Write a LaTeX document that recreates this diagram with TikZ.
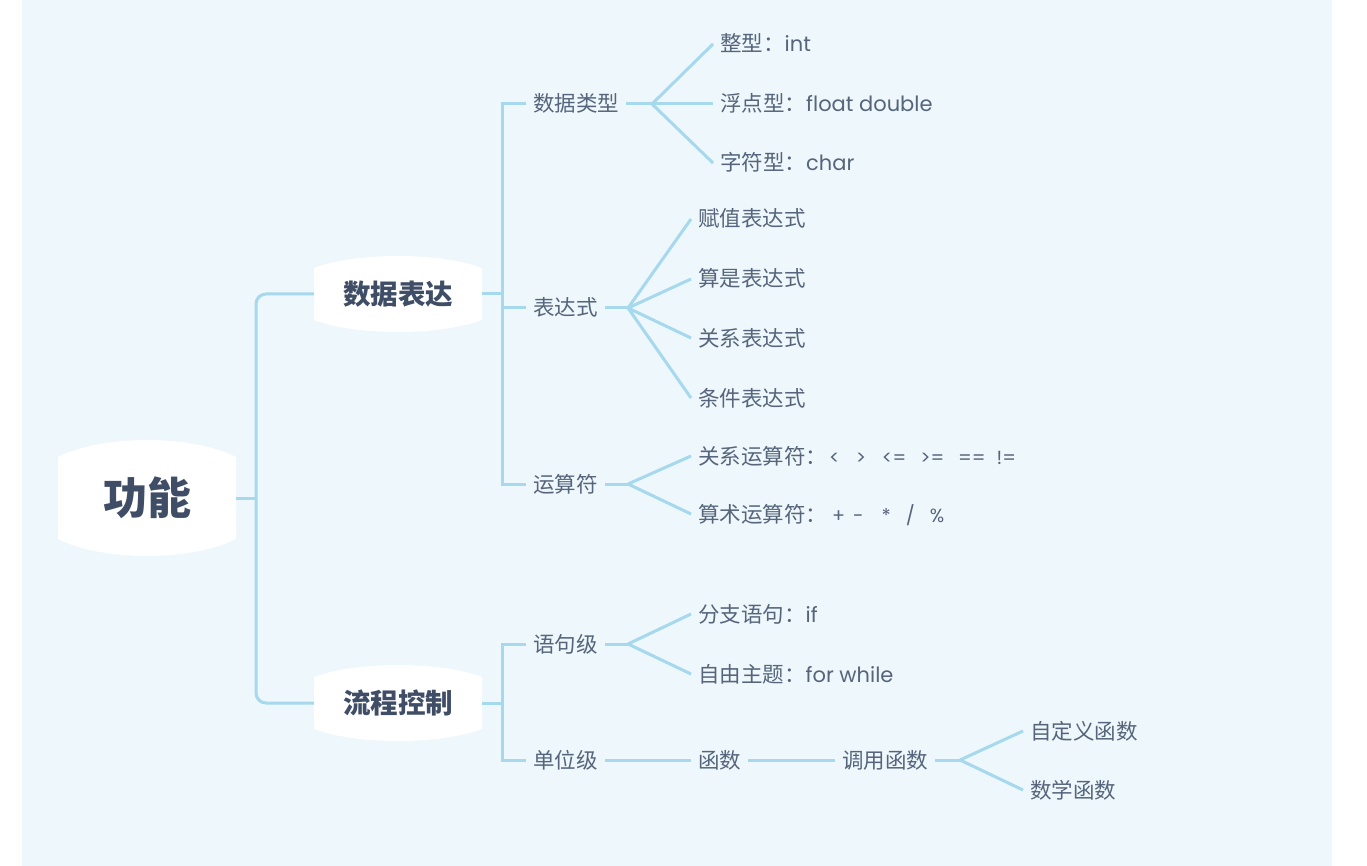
\documentclass[tikz,border=0pt]{standalone}
\usepackage{fontspec}
\setmainfont{Noto Sans CJK SC}
\newfontfamily\latfont{Poppins}
\usetikzlibrary{calc}
\definecolor{bgc}{HTML}{EEF7FB}
\definecolor{linec}{HTML}{A6D8EE}
\definecolor{txt}{HTML}{56657B}
\definecolor{btxt}{HTML}{3F4E66}
\newcommand\latn[1]{{\latfont\fontsize{21}{24}\selectfont #1}}
\newcommand\opsz[1]{{\latfont\fontsize{19}{21}\selectfont #1}}
\tikzset{
  conn/.style={draw=linec, line width=3pt},
  bubble/.style={inner sep=0pt, path picture={
    \fill[white] let \p1=(path picture bounding box.south west),
      \p2=(path picture bounding box.north east),
      \n1={#1}, \n2={\x2-\x1} in
      (\x1,\y2-\n1) .. controls (\x1+0.25*\n2,\y2+\n1/3) and (\x2-0.25*\n2,\y2+\n1/3) .. (\x2,\y2-\n1)
      -- (\x2,\y1+\n1) .. controls (\x2-0.25*\n2,\y1-\n1/3) and (\x1+0.25*\n2,\y1-\n1/3) .. (\x1,\y1+\n1)
      -- cycle;}},
  rootbox/.style={bubble=17pt, minimum width=178pt, minimum height=116pt,
    font=\bfseries\fontsize{44}{48}\selectfont, text=btxt},
  mainbox/.style={bubble=12pt, minimum width=168pt, minimum height=76pt,
    font=\bfseries\fontsize{27.5}{30}\selectfont, text=btxt},
  lbl/.style={anchor=west, inner xsep=7pt, inner ysep=0pt, text=txt,
    font=\fontsize{21.5}{24}\selectfont, text height=18.5pt, text depth=2.5pt},
}
\begin{document}
\begin{tikzpicture}[x=1pt,y=-1pt]
\useasboundingbox (0,0) rectangle (1367,866);
\fill[white] (0,0) rectangle (1367,866);
\fill[bgc] (22,0) rectangle (1332,866);

% level 0/1
\node[rootbox] (root) at (147,498) {功能};
\node[mainbox] (b1) at (398,294) {数据表达};
\node[mainbox] (b2) at (398,703) {流程控制};
\coordinate (j1) at (256,498);
\draw[conn, rounded corners=10pt] (b1.west) -| (j1) |- (b2.west);
\draw[conn] (root.east) -- (j1);

% level 2
\node[lbl] (dt) at (526,104) {数据类型};
\node[lbl] (ex) at (526,308) {表达式};
\node[lbl] (op) at (526,484) {运算符};
\node[lbl] (st) at (526,644) {语句级};
\node[lbl] (un) at (526,760) {单位级};
\coordinate (j2) at (502,294);
\coordinate (j3) at (502,703);
\draw[conn] (b1.east) -- (j2);
\draw[conn] (dt.west) -| (j2) |- (op.west);
\draw[conn] (j2 |- ex.west) -- (ex.west);
\draw[conn] (b2.east) -- (j3);
\draw[conn] (st.west) -| (j3) |- (un.west);

% 数据类型
\node[lbl] (dt1) at (713,44) {整型：\latn{int}};
\node[lbl] (dt2) at (713,104) {浮点型：\latn{float double}};
\node[lbl] (dt3) at (713,163) {字符型：\latn{char}};
\coordinate (f1) at (652,104);
\draw[conn] (dt.east) -- (f1);
\foreach \n in {dt1,dt2,dt3} \draw[conn] (f1) -- (\n.west);

% 表达式
\node[lbl] (ex1) at (691,219) {赋值表达式};
\node[lbl] (ex2) at (691,279) {算是表达式};
\node[lbl] (ex3) at (691,338) {关系表达式};
\node[lbl] (ex4) at (691,398) {条件表达式};
\coordinate (f2) at (628,308);
\draw[conn] (ex.east) -- (f2);
\foreach \n in {ex1,ex2,ex3,ex4} \draw[conn] (f2) -- (\n.west);

% 运算符
\node[lbl] (op1) at (691,456) {关系运算符：\opsz{\hspace{2pt}<\hspace{16pt}>\hspace{16pt}<=\hspace{14pt}>=\hspace{14pt}==\hspace{11pt}!=}};
\node[lbl] (op2) at (691,514) {算术运算符：\opsz{\hspace{5pt}+\hspace{8pt}-\hspace{18pt}*\hspace{15pt}/\hspace{15pt}\%}};
\coordinate (f3) at (628,484);
\draw[conn] (op.east) -- (f3);
\foreach \n in {op1,op2} \draw[conn] (f3) -- (\n.west);

% 语句级
\node[lbl] (st1) at (691,614) {分支语句：\latn{if}};
\node[lbl] (st2) at (691,674) {自由主题：\latn{for while}};
\coordinate (f4) at (628,644);
\draw[conn] (st.east) -- (f4);
\foreach \n in {st1,st2} \draw[conn] (f4) -- (\n.west);

% 单位级
\node[lbl] (fn) at (691,760) {函数};
\node[lbl] (cf) at (835,760) {调用函数};
\node[lbl] (cf1) at (1023,731) {自定义函数};
\node[lbl] (cf2) at (1023,790) {数学函数};
\coordinate (f5) at (960,760);
\draw[conn] (un.east) -- (fn.west);
\draw[conn] (fn.east) -- (cf.west);
\draw[conn] (cf.east) -- (f5);
\foreach \n in {cf1,cf2} \draw[conn] (f5) -- (\n.west);
\end{tikzpicture}
\end{document}
